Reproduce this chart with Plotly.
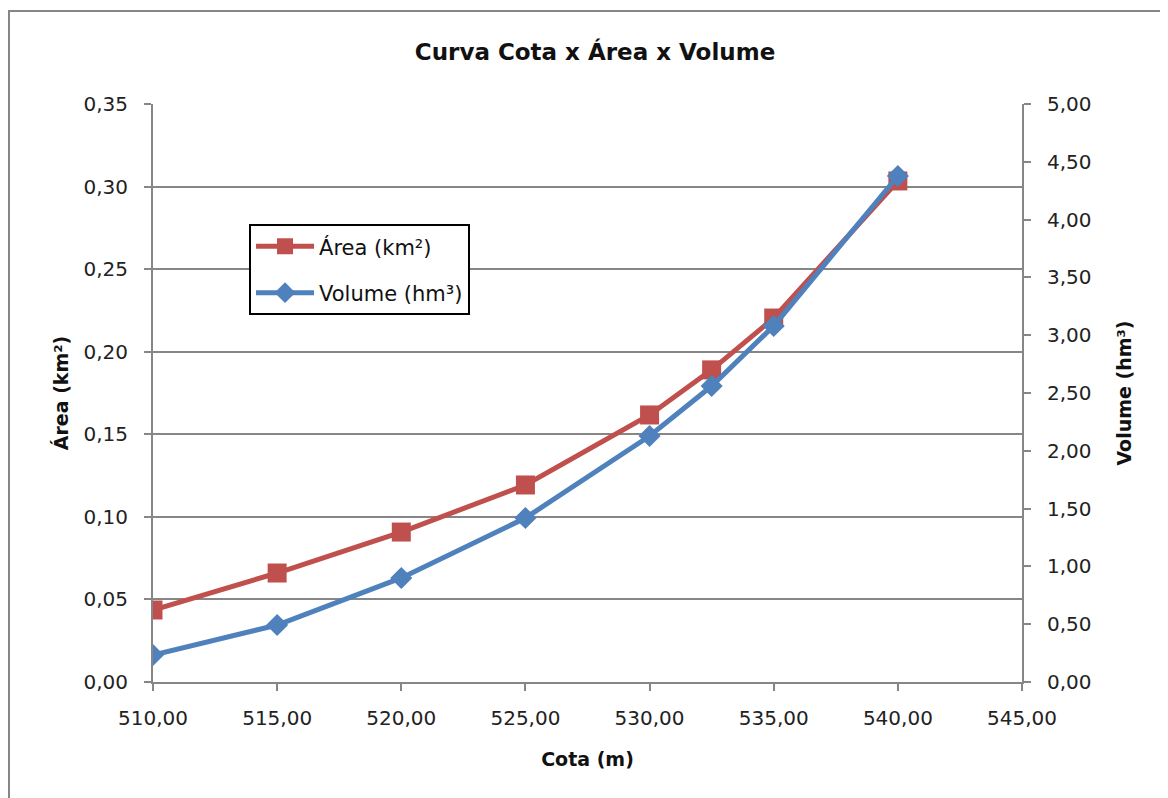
import plotly.graph_objects as go

cota = [510.0, 515.0, 520.0, 525.0, 530.0, 532.5, 535.0, 540.0]
area_km2 = [0.0436, 0.0660, 0.0908, 0.1193, 0.1617, 0.1890, 0.2204, 0.3034]
volume_hm3 = [0.234, 0.493, 0.900, 1.419, 2.128, 2.560, 3.080, 4.377]

x_ticks = [510, 515, 520, 525, 530, 535, 540, 545]
y1_ticks = [0, 0.05, 0.10, 0.15, 0.20, 0.25, 0.30, 0.35]
y2_ticks = [0, 0.5, 1.0, 1.5, 2.0, 2.5, 3.0, 3.5, 4.0, 4.5, 5.0]

RED = "#C0504D"
BLUE = "#4F81BD"
GRAY = "#868686"
FONT = "DejaVu Sans, sans-serif"

fig = go.Figure()
fig.add_trace(go.Scatter(
    x=cota, y=area_km2, name="Área (km²)", mode="lines+markers",
    line=dict(color=RED, width=5), legendgroup="a",
    marker=dict(symbol="square", size=19, color=RED),
))
fig.add_trace(go.Scatter(
    x=cota, y=volume_hm3, name="Volume (hm³)", mode="lines+markers",
    line=dict(color=BLUE, width=5), legendgroup="v",
    marker=dict(symbol="diamond", size=17, color=BLUE),
    yaxis="y2",
))

axis_common = dict(
    showline=True, linecolor=GRAY, linewidth=2,
    ticks="outside", tickcolor=GRAY, ticklen=7, tickwidth=2,
    tickfont=dict(family=FONT, size=20, color="#222"),
    zeroline=False,
)

fig.update_layout(
    width=1168, height=798,
    paper_bgcolor="white", plot_bgcolor="white",
    separators=",.",
    margin=dict(l=145, r=154, t=96, b=124),
    title=dict(text="<b>Curva Cota x Área x Volume</b>", x=0.5026, xanchor="center",
               y=0.945, yanchor="middle",
               font=dict(family=FONT, size=23, color="#111")),
    xaxis=dict(range=[510, 545], tickvals=x_ticks, tickformat=".2f",
               showgrid=False, ticklabelstandoff=10,
               title=dict(text="<b>Cota (m)</b>", font=dict(family=FONT, size=19, color="#111"), standoff=24),
               **axis_common),
    yaxis=dict(range=[0, 0.35], tickvals=y1_ticks, tickformat=".2f",
               showgrid=True, gridcolor=GRAY, gridwidth=2, ticklabelstandoff=12,
               title=dict(text="<b>Área (km²)</b>", font=dict(family=FONT, size=19, color="#111"), standoff=10),
               **axis_common),
    yaxis2=dict(range=[0, 5], tickvals=y2_ticks, tickformat=".2f",
                overlaying="y", side="right", showgrid=False, ticklabelstandoff=12,
                title=dict(text="<b>Volume (hm³)</b>", font=dict(family=FONT, size=19, color="#111"), standoff=27),
                **axis_common),
    legend=dict(x=0.1105, y=0.792, xanchor="left", yanchor="top",
                bgcolor="white", bordercolor="black", borderwidth=2,
                font=dict(family=FONT, size=21, color="#111"),
                traceorder="grouped", tracegroupgap=16, itemwidth=58),
    showlegend=True,
)

fig.add_shape(type="rect", xref="paper", yref="paper",
              x0=-0.1657, x1=1.25, y0=-0.3, y1=1.161,
              line=dict(color=GRAY, width=2), layer="below")

fig.write_html("out.html")
